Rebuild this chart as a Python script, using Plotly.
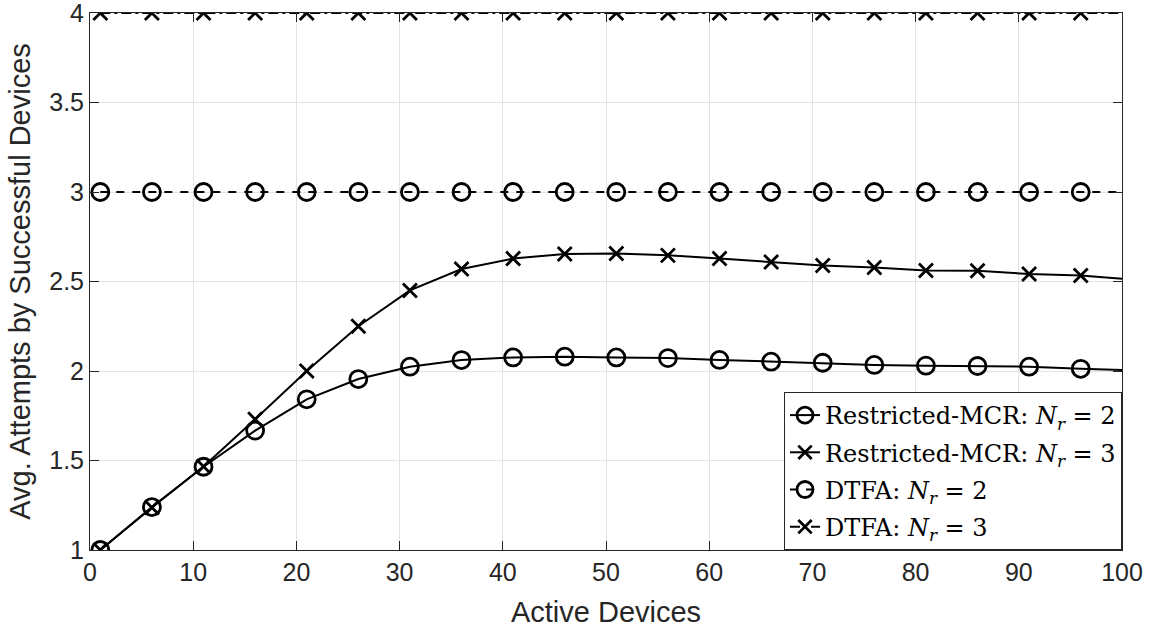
import plotly.graph_objects as go

# ---- data ----
x_pts = [1, 6, 11, 16, 21, 26, 31, 36, 41, 46, 51, 56, 61, 66, 71, 76, 81, 86, 91, 96, 100]
mcr_nr2 = [1.00, 1.24, 1.465, 1.667, 1.842, 1.955, 2.024, 2.061, 2.076, 2.080, 2.076, 2.072,
           2.062, 2.052, 2.046, 2.034, 2.030, 2.028, 2.024, 2.012, 2.005]
mcr_nr3 = [1.00, 1.237, 1.466, 1.73, 2.00, 2.25, 2.45, 2.57, 2.628, 2.654, 2.656, 2.646,
           2.628, 2.609, 2.590, 2.578, 2.562, 2.560, 2.542, 2.534, 2.516]
dtfa_nr2 = [3.0] * len(x_pts)
dtfa_nr3 = [4.0] * len(x_pts)

names = ["Restricted-MCR: <i>N</i><sub><i>r</i></sub> = 2",
         "Restricted-MCR: <i>N</i><sub><i>r</i></sub> = 3",
         "DTFA: <i>N</i><sub><i>r</i></sub> = 2",
         "DTFA: <i>N</i><sub><i>r</i></sub> = 3"]
series = [mcr_nr2, mcr_nr3, dtfa_nr2, dtfa_nr3]
symbols = ["circle-open", "x-thin-open", "circle-open", "x-thin-open"]
dashes = ["solid", "solid", "8px,8px", "10px,4px,3px,4px"]
sizes = [17, 14, 17, 14]

fig = go.Figure()
for i, (name, ys, sym, dash, sz) in enumerate(zip(names, series, symbols, dashes, sizes)):
    msizes = [sz] * (len(x_pts) - 1) + [0]
    fig.add_trace(go.Scatter(
        x=x_pts, y=ys, name=name, mode="lines+markers", legendgroup=f"g{i}",
        line=dict(color="black", width=2, dash=dash),
        marker=dict(symbol=sym, size=msizes, color="black", opacity=1,
                    line=dict(color="black", width=2.8)),
    ))

sans = "Liberation Sans, Arial, sans-serif"
axis_common = dict(
    showline=True, linecolor="#262626", linewidth=1, mirror="ticks",
    ticks="inside", ticklen=9, tickcolor="#262626", tickwidth=1,
    showgrid=True, gridcolor="#e3e3e3", gridwidth=1, zeroline=False,
    automargin=False, ticklabeloverflow="allow",
    tickfont=dict(family=sans, size=25, color="#262626"),
)

fig.update_layout(
    width=1155, height=634,
    margin=dict(l=90, r=33, t=13, b=84),
    plot_bgcolor="white", paper_bgcolor="white",
    showlegend=True,
    legend=dict(
        x=1, y=0, xanchor="right", yanchor="bottom",
        bgcolor="white", bordercolor="#262626", borderwidth=1,
        font=dict(family="DejaVu Serif, Liberation Serif, serif", size=24, color="black"),
        itemwidth=30, tracegroupgap=3,
    ),
    xaxis=dict(range=[0, 100], tickmode="array",
               tickvals=[0, 10, 20, 30, 40, 50, 60, 70, 80, 90, 100],
               title=dict(text="Active Devices", standoff=16,
                          font=dict(family=sans, size=29, color="#262626")),
               **axis_common),
    yaxis=dict(range=[1, 4], tickmode="array",
               tickvals=[1, 1.5, 2, 2.5, 3, 3.5, 4],
               ticktext=["1", "1.5", "2", "2.5", "3", "3.5", "4"],
               title=dict(text="Avg. Attempts by Successful Devices", standoff=10,
                          font=dict(family=sans, size=29, color="#262626")),
               **axis_common),
)

fig.write_html("out.html")
